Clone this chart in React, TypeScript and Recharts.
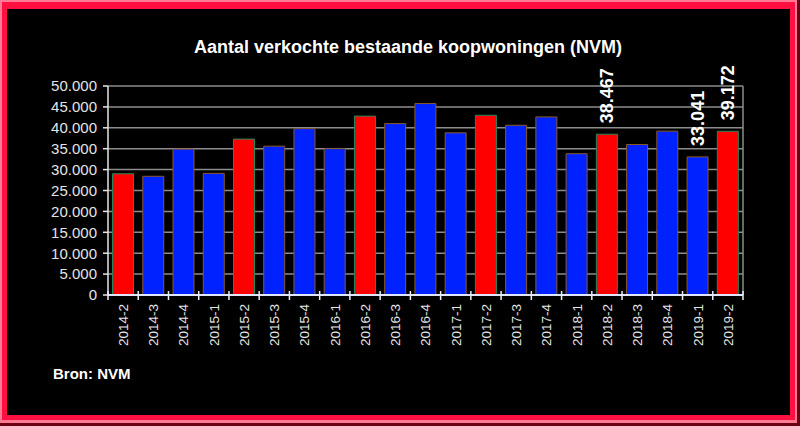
import React from 'react';
import { BarChart, Bar, XAxis, YAxis, CartesianGrid, Cell, LabelList } from 'recharts';

const categories = [
  '2014-2', '2014-3', '2014-4', '2015-1', '2015-2', '2015-3', '2015-4',
  '2016-1', '2016-2', '2016-3', '2016-4', '2017-1', '2017-2', '2017-3',
  '2017-4', '2018-1', '2018-2', '2018-3', '2018-4', '2019-1', '2019-2',
];
const sales = [
  29000, 28400, 34900, 29100, 37300, 35600, 39800,
  35000, 42800, 41000, 45800, 38800, 43000, 40600,
  42600, 33800, 38467, 36000, 39200, 33041, 39172,
];
const redPeriods = ['2014-2', '2015-2', '2016-2', '2017-2', '2018-2', '2019-2'];
const labelledPeriods = ['2018-2', '2019-1', '2019-2'];
const yTicks = [0, 5000, 10000, 15000, 20000, 25000, 30000, 35000, 40000, 45000, 50000];

const title = 'Aantal verkochte bestaande koopwoningen (NVM)';
const source = 'Bron: NVM';

const fmt = (n: number) => String(n).replace(/\B(?=(\d{3})+(?!\d))/g, '.');

const data = categories.map((c, i) => ({
  period: c,
  value: sales[i],
  label: labelledPeriods.includes(c) ? fmt(sales[i]) : '',
}));

const FONT = 'Arial, "Liberation Sans", Helvetica, sans-serif';

const XTick = (props: any) => {
  const { x, y, payload, index, width, visibleTicksCount } = props;
  const half =
    payload && payload.offset ? payload.offset : width / (visibleTicksCount || categories.length) / 2;
  const isLast = index === categories.length - 1;
  return (
    <g>
      <line x1={x - half} x2={x - half} y1={y - 4} y2={y + 5} stroke="#e8ecff" strokeWidth={1.5} />
      {isLast && (
        <line x1={x + half} x2={x + half} y1={y - 4} y2={y + 5} stroke="#e8ecff" strokeWidth={1.5} />
      )}
      <text
        x={x}
        y={y + 9}
        transform={`rotate(-90, ${x}, ${y + 9})`}
        textAnchor="end"
        dy="0.36em"
        fontSize={13.5}
        fontFamily={FONT}
        fill="#e6e6e6"
      >
        {payload.value}
      </text>
    </g>
  );
};

const ValueLabel = (props: any) => {
  const { x, y, width, value } = props;
  if (!value) return null;
  const cx = x + width / 2;
  const ty = y - 11;
  return (
    <text
      x={cx}
      y={ty}
      transform={`rotate(-90, ${cx}, ${ty})`}
      textAnchor="start"
      dy="0.36em"
      fontSize={18}
      fontWeight="bold"
      fontFamily={FONT}
      fill="#ffffff"
    >
      {value}
    </text>
  );
};

export default function App() {
  return (
    <div style={{ position: 'absolute', left: 0, top: 0, width: 800, height: 426, background: '#6a0012', overflow: 'hidden' }}>
      <div style={{ position: 'absolute', left: 0, top: 0, width: 797, height: 423, background: '#ff7a92' }} />
      <div style={{ position: 'absolute', left: 2, top: 2, width: 793, height: 418, background: '#ff1040' }} />
      <div style={{ position: 'absolute', left: 7, top: 9, width: 783, height: 406, background: '#000000' }} />
      <svg width={800} height={426} style={{ position: 'absolute', left: 0, top: 0 }}>
        <text x={408} y={53} textAnchor="middle" fontSize={18} fontWeight="bold" fontFamily={FONT} fill="#ffffff">
          {title}
        </text>
        <text x={53} y={379} fontSize={15} fontWeight="bold" fontFamily={FONT} fill="#ffffff">
          {source}
        </text>
      </svg>
      <div style={{ position: 'absolute', left: 0, top: 0 }}>
        <BarChart
          width={800}
          height={426}
          data={data}
          margin={{ top: 86, right: 57, bottom: 71, left: 0 }}
          barCategoryGap="15%"
        >
          <CartesianGrid
            stroke="#8c8c8c"
            strokeWidth={1.5}
            vertical={true}
            verticalCoordinatesGenerator={({ offset }: any) => [offset.left + offset.width]}
          />
          <YAxis
            width={108}
            domain={[0, 50000]}
            ticks={yTicks}
            tickFormatter={fmt}
            interval={0}
            axisLine={{ stroke: '#e6e6e6', strokeWidth: 1.5 }}
            tickLine={{ stroke: '#e6e6e6', strokeWidth: 1.5 }}
            tickSize={5}
            tickMargin={6}
            tick={{ fontSize: 15, fill: '#e4e4e4', fontFamily: FONT }}
          />
          <XAxis
            dataKey="period"
            height={60}
            interval={0}
            tickSize={0}
            tickMargin={0}
            axisLine={{ stroke: '#dfe4ff', strokeWidth: 2 }}
            tickLine={false}
            tick={<XTick />}
          />
          <Bar dataKey="value" isAnimationActive={false}>
            {data.map((d) => {
              const red = redPeriods.includes(d.period);
              return (
                <Cell
                  key={d.period}
                  fill={red ? '#ff0000' : '#0022ff'}
                  stroke={red ? '#1f8a60' : '#8a5a28'}
                  strokeWidth={1}
                />
              );
            })}
            <LabelList dataKey="label" content={<ValueLabel />} />
          </Bar>
        </BarChart>
      </div>
    </div>
  );
}
